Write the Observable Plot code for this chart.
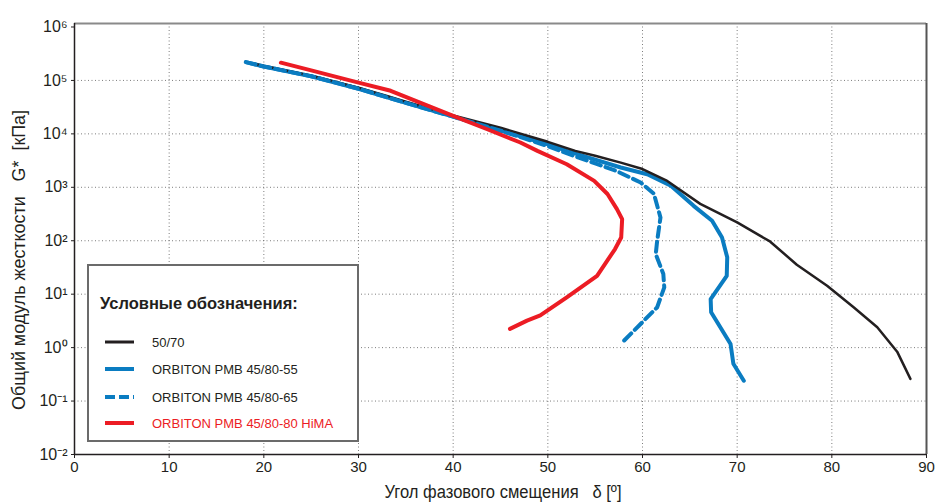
<!DOCTYPE html>
<html>
<head>
<meta charset="utf-8">
<script src="https://cdn.jsdelivr.net/npm/d3@7"></script>
<script src="https://cdn.jsdelivr.net/npm/@observablehq/plot@0.6"></script>
<style>
  body { margin: 0; background: #fff; }
  #wrap { position: relative; width: 938px; height: 504px; overflow: hidden; }
  #legend {
    position: absolute; left: 87px; top: 264px; width: 268px; height: 174px;
    border: 2px solid #6b6b6b; background: #fff; box-sizing: content-box;
    font-family: "Liberation Sans", Arial, sans-serif;
  }
  #legend .title { position: absolute; left: 11px; top: 28px; font-weight: bold; font-size: 16.5px; color: #231f20; white-space: nowrap; }
  #legend .row { position: absolute; left: 16px; height: 16px; display: flex; align-items: center; font-size: 13px; color: #231f20; white-space: nowrap; }
  #legend .row svg { margin-right: 17px; }
</style>
</head>
<body>
<div id="wrap"></div>
<script>
// ---- data ----
const xTicks = [0, 10, 20, 30, 40, 50, 60, 70, 80, 90];
const xGridTicks = [10, 20, 30, 40, 50, 60, 70, 80];
const yTicks = [1e-2, 1e-1, 1e0, 1e1, 1e2, 1e3, 1e4, 1e5, 1e6];
const yGridTicks = [1e-1, 1e0, 1e1, 1e2, 1e3, 1e4, 1e5];
const yTickLabels = ["10⁻²", "10⁻¹", "10⁰", "10¹", "10²", "10³", "10⁴", "10⁵", "10⁶"];

const seriesNames = ["50/70", "ORBITON PMB 45/80-55", "ORBITON PMB 45/80-65", "ORBITON PMB 45/80-80 HiMA"];
const seriesColors = ["#231f20", "#0a7cc1", "#0a7cc1", "#ec1c24"];

// 50/70
const delta5070 = [18.1, 20, 25, 30, 33, 35, 40, 45, 50, 52.9, 55, 57.7, 60, 62.5, 66.1, 70, 73.5, 76.3, 79.5, 82.3, 84.8, 86.9, 88.3];
const g5070 = [2.2e5, 1.86e5, 1.22e5, 7.3e4, 5.1e4, 4.0e4, 2.2e4, 1.3e4, 7.1e3, 4.8e3, 3.9e3, 2.9e3, 2.2e3, 1.35e3, 490, 220, 96, 35.6, 14.4, 5.7, 2.4, 0.84, 0.26];

// ORBITON PMB 45/80-55
const delta55 = [18.1, 20, 25, 30, 35, 40, 45, 50, 52, 55, 57.7, 60.5, 63, 65.4, 67.35, 68.4, 68.95, 68.9, 67.2, 67.25, 69.3, 69.6, 70.7];
const g55 = [2.2e5, 1.82e5, 1.2e5, 7.0e4, 3.8e4, 2.1e4, 1.15e4, 6.4e3, 4.8e3, 3.3e3, 2.35e3, 1.76e3, 1.07e3, 450, 237, 115, 49, 22, 8.1, 4.6, 1.17, 0.50, 0.24];

// ORBITON PMB 45/80-65
const delta65 = [18.1, 20, 25, 30, 35, 40, 45, 50, 51.3, 55, 57.3, 59.8, 61.2, 61.9, 61.55, 61.4, 62.2, 62.3, 61.55, 59.8, 57.7];
const g65 = [2.2e5, 1.82e5, 1.2e5, 7.0e4, 3.8e4, 2.1e4, 1.15e4, 5.9e3, 4.8e3, 2.8e3, 2.0e3, 1.23e3, 760, 273, 100, 56, 23.9, 13.4, 5.7, 2.77, 1.17];

// ORBITON PMB 45/80-80 HiMA
const deltaHiMA = [21.8, 25, 30, 33.4, 36.5, 40, 43.6, 47.1, 48.9, 52.0, 54.9, 56.3, 57.3, 57.85, 57.75, 57.1, 55.2, 52.0, 49.2, 47.8, 46.0];
const gHiMA = [2.15e5, 1.54e5, 9.1e4, 6.4e4, 3.85e4, 2.17e4, 1.22e4, 6.9e3, 4.8e3, 2.7e3, 1.32e3, 750, 390, 254, 115, 70, 22, 8.7, 4.0, 3.2, 2.24];

const yTitle = "Общий модуль жесткости   G*  [кПа]";
const xTitle = "Угол фазового смещения   δ [º]";

// ---- build tables ----
const toRows = (xs, ys, name) => xs.map((x, i) => ({delta: x, g: ys[i], name}));
const rows5070 = toRows(delta5070, g5070, seriesNames[0]);
const rows55 = toRows(delta55, g55, seriesNames[1]);
const rows65 = toRows(delta65, g65, seriesNames[2]);
const rowsHiMA = toRows(deltaHiMA, gHiMA, seriesNames[3]);

const yTop = Math.pow(10, 6 + 3.5 / 53.5);
const font = '"Liberation Sans Narrow", "Liberation Sans", Arial, sans-serif';

const chart = Plot.plot({
  width: 938,
  height: 504,
  marginLeft: 74,
  marginRight: 12,
  marginTop: 23,
  marginBottom: 50,
  style: {fontFamily: font, fontSize: "15px", color: "#231f20", background: "#fff", overflow: "visible"},
  x: {domain: [0, 90], label: null},
  y: {type: "log", domain: [1e-2, yTop], label: null},
  marks: [
    Plot.gridX(xGridTicks, {stroke: "#666", strokeOpacity: 0.85, strokeDasharray: "1,2.5", strokeWidth: 1}),
    Plot.gridY(yGridTicks, {stroke: "#666", strokeOpacity: 0.85, strokeDasharray: "1,2.5", strokeWidth: 1}),
    Plot.ruleY([yTop], {stroke: "#8a8a8a", strokeWidth: 2}),
    Plot.ruleX([90], {stroke: "#555", strokeWidth: 2}),
    Plot.line(rows55, {x: "delta", y: "g", stroke: seriesColors[1], strokeWidth: 4}),
    Plot.line(rows5070, {x: "delta", y: "g", stroke: seriesColors[0], strokeWidth: 2.5}),
    Plot.line(rows65, {x: "delta", y: "g", stroke: seriesColors[2], strokeWidth: 4, strokeDasharray: "10,5"}),
    Plot.line(rowsHiMA, {x: "delta", y: "g", stroke: seriesColors[3], strokeWidth: 4}),
    Plot.ruleX([0], {stroke: "#231f20", strokeWidth: 1.5}),
    Plot.ruleY([1e-2], {stroke: "#231f20", strokeWidth: 1.5}),
    Plot.axisX({ticks: xTicks, tickSize: 4, tickPadding: 3, fontSize: 15, stroke: "#231f20"}),
    Plot.axisY({ticks: yTicks, tickSize: 3, tickPadding: 4, fontSize: 16,
      tickFormat: d => yTickLabels[yTicks.findIndex(t => Math.abs(Math.log10(t) - Math.log10(d)) < 1e-6)]})
  ]
});

const wrap = document.getElementById("wrap");
wrap.appendChild(chart);

// axis titles
const svg = d3.select(chart);
svg.append("text")
  .attr("transform", "translate(25,260) rotate(-90)")
  .attr("text-anchor", "middle")
  .attr("textLength", 300)
  .attr("lengthAdjust", "spacingAndGlyphs")
  .style("font-family", font)
  .style("font-size", "18px")
  .style("fill", "#231f20")
  .style("white-space", "pre")
  .text(yTitle);
svg.append("text")
  .attr("x", 503)
  .attr("y", 498)
  .attr("text-anchor", "middle")
  .attr("textLength", 237)
  .attr("lengthAdjust", "spacingAndGlyphs")
  .style("font-family", font)
  .style("font-size", "18px")
  .style("fill", "#231f20")
  .style("white-space", "pre")
  .text(xTitle);

// legend
const legend = document.createElement("div");
legend.id = "legend";
const title = document.createElement("div");
title.className = "title";
title.textContent = "Условные обозначения:";
legend.appendChild(title);
const rowTops = [68, 95, 123, 149];
seriesNames.forEach((name, i) => {
  const row = document.createElement("div");
  row.className = "row";
  row.style.top = rowTops[i] + "px";
  const sw = d3.create("svg").attr("width", 30).attr("height", 10);
  sw.append("line").attr("x1", 0).attr("x2", 29).attr("y1", 5).attr("y2", 5)
    .attr("stroke", seriesColors[i])
    .attr("stroke-width", i === 0 ? 3 : 4)
    .attr("stroke-dasharray", i === 2 ? "10,4" : null);
  row.appendChild(sw.node());
  const t = document.createElement("span");
  t.textContent = name;
  if (i === 3) t.style.color = "#ec1c24";
  row.appendChild(t);
  legend.appendChild(row);
});
wrap.appendChild(legend);
</script>
</body>
</html>
